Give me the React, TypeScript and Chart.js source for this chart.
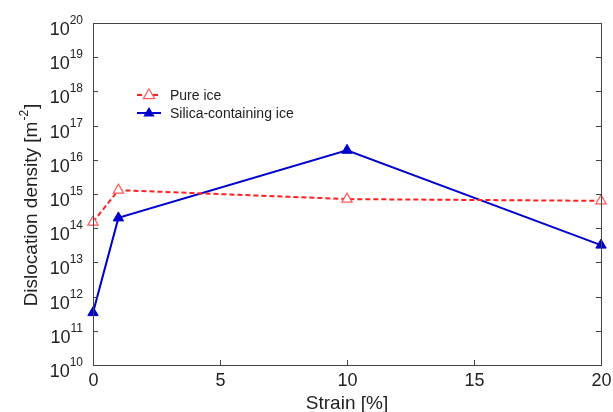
import React, { useEffect, useRef } from 'react';
import { Chart, registerables } from 'chart.js';

Chart.register(...registerables);

const strain = [0, 1, 10, 20];
const pureIce = [1.5e14, 1.3e15, 7.1e14, 6.3e14];
const silicaIce = [3.4e11, 2.0e14, 1.9e16, 3.2e13];
const xTickValues = [0, 5, 10, 15, 20];
const yExponents = [10, 11, 12, 13, 14, 15, 16, 17, 18, 19, 20];
const seriesNames = ['Pure ice', 'Silica-containing ice'];
const xTitle = 'Strain [%]';
const yTitleMain = 'Dislocation density [m';
const yTitleSup = '-2';
const yTitleEnd = ']';

const FONT = '"Liberation Sans", Arial, sans-serif';
const RED = '#ff2020';
const RED_MARK = '#ff5a5a';
const BLUE = '#0000cc';

function drawTriangle(ctx: CanvasRenderingContext2D, x: number, y: number, r: number, fill: boolean, color: string) {
  ctx.beginPath();
  ctx.moveTo(x, y - r);
  ctx.lineTo(x + r * 0.95, y + r * 0.6);
  ctx.lineTo(x - r * 0.95, y + r * 0.6);
  ctx.closePath();
  if (fill) {
    ctx.fillStyle = color;
    ctx.fill();
  } else {
    ctx.fillStyle = '#ffffff';
    ctx.fill();
    ctx.strokeStyle = color;
    ctx.lineWidth = 1.2;
    ctx.stroke();
  }
}

const framePlugin = {
  id: 'frame',
  afterDraw(chart: any) {
    const ctx: CanvasRenderingContext2D = chart.ctx;
    const { left, right, top, bottom } = chart.chartArea;
    const xs = chart.scales.x;
    const ys = chart.scales.y;
    ctx.save();
    ctx.strokeStyle = '#444444';
    ctx.lineWidth = 1;
    ctx.strokeRect(left + 0.5, top + 0.5, right - left, bottom - top);
    ctx.fillStyle = '#222222';
    ctx.textBaseline = 'alphabetic';
    yExponents.forEach((e) => {
      const py = Math.round(ys.getPixelForValue(Math.pow(10, e))) + 0.5;
      ctx.beginPath();
      ctx.moveTo(left, py);
      ctx.lineTo(left + 5, py);
      ctx.moveTo(right, py);
      ctx.lineTo(right - 5, py);
      ctx.stroke();
      ctx.font = `12px ${FONT}`;
      const supW = ctx.measureText(String(e)).width;
      ctx.textAlign = 'left';
      const supX = left - 10 - supW;
      ctx.fillText(String(e), supX, py);
      ctx.font = `18px ${FONT}`;
      ctx.textAlign = 'right';
      ctx.fillText('10', supX, py + 11);
    });
    ctx.font = `18px ${FONT}`;
    ctx.textAlign = 'center';
    xTickValues.forEach((v) => {
      const px = Math.round(xs.getPixelForValue(v)) + 0.5;
      if (v !== 0 && v !== 20) {
        ctx.beginPath();
        ctx.moveTo(px, bottom);
        ctx.lineTo(px, bottom - 5);
        ctx.stroke();
      }
      ctx.fillText(String(v), px, bottom + 21);
    });
    ctx.font = `19px ${FONT}`;
    ctx.fillText(xTitle, (left + right) / 2, 409);
    ctx.save();
    ctx.translate(37, 205);
    ctx.rotate(-Math.PI / 2);
    ctx.font = `19px ${FONT}`;
    const w1 = ctx.measureText(yTitleMain).width;
    ctx.font = `12px ${FONT}`;
    const w2 = ctx.measureText(yTitleSup).width;
    ctx.font = `19px ${FONT}`;
    const w3 = ctx.measureText(yTitleEnd).width;
    const total = w1 + w2 + w3 + 2;
    let cx = -total / 2;
    ctx.textAlign = 'left';
    ctx.fillText(yTitleMain, cx, 0);
    cx += w1 + 1;
    ctx.font = `12px ${FONT}`;
    ctx.fillText(yTitleSup, cx, -9);
    cx += w2 + 1;
    ctx.font = `19px ${FONT}`;
    ctx.fillText(yTitleEnd, cx, 0);
    ctx.restore();
    const lx = 137;
    const items = [
      { y: 95, color: RED, mark: RED_MARK, dash: [5, 3], fill: false },
      { y: 113, color: BLUE, mark: BLUE, dash: [], fill: true },
    ];
    items.forEach((it, i) => {
      ctx.beginPath();
      ctx.setLineDash(it.dash);
      ctx.strokeStyle = it.color;
      ctx.lineWidth = 2;
      ctx.moveTo(lx, it.y);
      ctx.lineTo(lx + 24, it.y);
      ctx.stroke();
      ctx.setLineDash([]);
      drawTriangle(ctx, lx + 12, it.y, 6, it.fill, it.mark);
      ctx.fillStyle = '#222222';
      ctx.font = `14px ${FONT}`;
      ctx.textAlign = 'left';
      ctx.fillText(seriesNames[i], lx + 33, it.y + 5);
    });
    ctx.restore();
  },
};

export default function App() {
  const ref = useRef<HTMLCanvasElement>(null);
  useEffect(() => {
    if (!ref.current) return;
    const chart = new Chart(ref.current, {
      type: 'line',
      data: {
        datasets: [
          {
            label: seriesNames[0],
            data: strain.map((x, i) => ({ x, y: pureIce[i] })),
            borderColor: RED,
            borderWidth: 2,
            borderDash: [5, 3],
            pointStyle: 'triangle',
            pointRadius: 6,
            pointBackgroundColor: '#ffffff',
            pointBorderColor: RED_MARK,
            pointBorderWidth: 1.2,
            clip: false as any,
          },
          {
            label: seriesNames[1],
            data: strain.map((x, i) => ({ x, y: silicaIce[i] })),
            borderColor: BLUE,
            borderWidth: 2,
            pointStyle: 'triangle',
            pointRadius: 6,
            pointBackgroundColor: BLUE,
            pointBorderColor: BLUE,
            pointBorderWidth: 1,
            clip: false as any,
          },
        ],
      },
      options: {
        animation: false,
        responsive: false,
        layout: { padding: { left: 93, right: 12, top: 23, bottom: 47 } },
        plugins: { legend: { display: false }, tooltip: { enabled: false } },
        scales: {
          x: { type: 'linear', min: 0, max: 20, display: false },
          y: { type: 'logarithmic', min: 1e10, max: 1e20, display: false },
        },
      },
      plugins: [framePlugin],
    });
    return () => chart.destroy();
  }, []);
  return (
    <div style={{ position: 'absolute', left: 0, top: 0, width: 613, height: 412, background: '#ffffff' }}>
      <canvas ref={ref} width={613} height={412} style={{ display: 'block' }} />
    </div>
  );
}
